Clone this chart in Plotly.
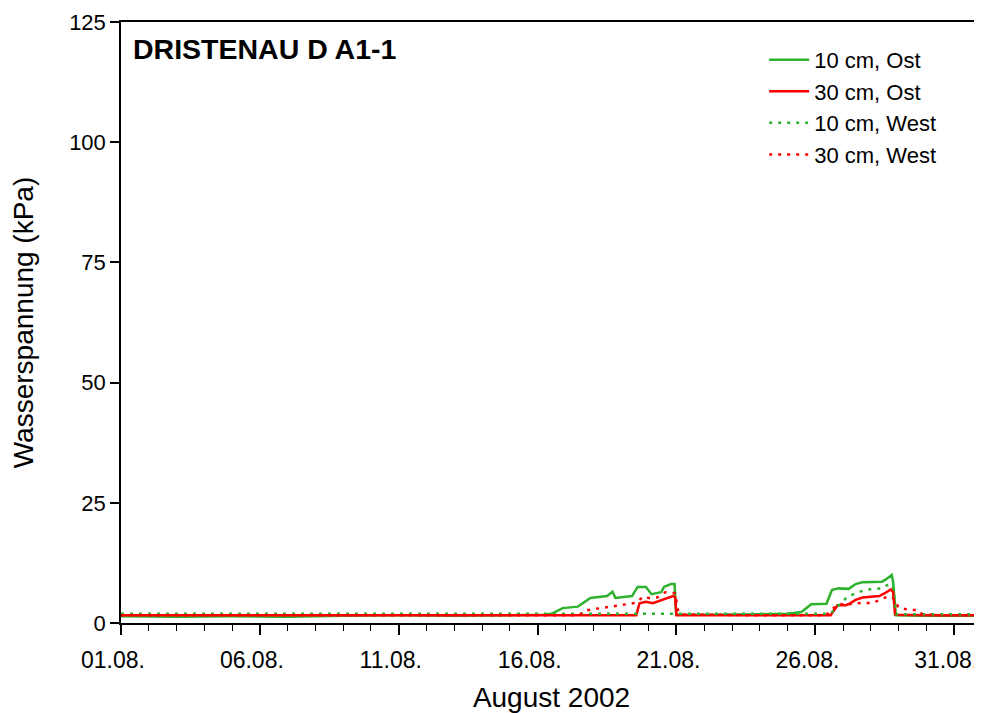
import plotly.graph_objects as go
import pandas as pd

# Zeitpunkte als Tag im August 2002 (1.0 = 01.08. 00:00)
t_gruen_ost = [1.0, 3.0, 5.0, 7.0, 9.0, 11.0, 13.0, 15.0, 16.2, 16.5, 16.9, 17.45, 17.9, 18.5, 18.7, 18.8,
               19.4, 19.6, 19.9, 20.1, 20.45, 20.55, 20.8, 20.93, 20.99, 22.0, 24.0, 25.0, 25.5, 25.85,
               26.4, 26.6, 26.85, 27.2, 27.45, 27.7, 28.4, 28.55, 28.75, 28.8, 28.9, 30.0, 32.0]
v_gruen_ost = [1.4, 1.3, 1.4, 1.3, 1.5, 1.6, 1.5, 1.6, 1.7, 1.9, 3.1, 3.4, 5.2, 5.6, 6.5, 5.2,
               5.6, 7.5, 7.5, 6.0, 6.4, 7.5, 8.1, 8.1, 1.7, 1.7, 1.8, 1.9, 2.3, 3.9,
               4.0, 6.9, 7.2, 7.1, 8.1, 8.5, 8.6, 9.1, 10.0, 8.5, 1.6, 1.5, 1.5]

t_rot_ost = [1.0, 5.0, 10.0, 15.0, 19.55, 19.67, 19.9, 20.15, 20.5, 20.87, 20.95, 21.0, 24.0, 26.55,
             26.8, 27.1, 27.25, 27.45, 27.7, 28.3, 28.5, 28.72, 28.8, 28.87, 30.0, 32.0]
v_rot_ost = [1.6, 1.6, 1.6, 1.6, 1.6, 4.1, 4.4, 4.1, 4.9, 5.6, 5.4, 1.6, 1.6, 1.6,
             3.7, 3.7, 4.1, 4.8, 5.3, 5.6, 6.2, 7.0, 6.4, 1.7, 1.6, 1.6]

t_gruen_west = [1.0, 10.0, 17.0, 20.0, 24.0, 26.55, 26.7, 26.95, 27.15, 27.5, 27.8, 28.4, 28.65, 28.8,
                28.9, 30.0, 32.0]
v_gruen_west = [1.9, 1.9, 1.9, 1.9, 1.9, 1.9, 3.0, 4.2, 5.5, 6.2, 6.9, 7.2, 8.1, 7.6,
                1.8, 1.8, 1.8]

t_rot_west = [1.0, 10.0, 17.5, 17.7, 18.65, 19.55, 19.8, 20.0, 20.3, 20.6, 20.95, 21.05, 21.15, 24.0,
              26.4, 26.55, 26.9, 27.1, 27.35, 27.75, 28.1, 28.3, 28.65, 28.8, 29.0, 29.4, 29.7, 29.85,
              30.5, 32.0]
v_rot_west = [1.6, 1.6, 1.6, 2.6, 3.4, 4.2, 5.5, 5.2, 5.3, 6.4, 6.2, 2.7, 1.8, 1.6,
              1.6, 2.7, 4.0, 3.6, 4.1, 4.2, 4.2, 4.8, 5.6, 5.3, 3.2, 2.7, 2.7, 1.8,
              1.6, 1.6]

serien = [
    ("10 cm, Ost", t_gruen_ost, v_gruen_ost, "rgb(45,178,45)", "solid"),
    ("30 cm, Ost", t_rot_ost, v_rot_ost, "rgb(255,0,0)", "solid"),
    ("10 cm, West", t_gruen_west, v_gruen_west, "rgb(45,178,45)", "3px,6px"),
    ("30 cm, West", t_rot_west, v_rot_west, "rgb(255,0,0)", "3px,6px"),
]

start = pd.Timestamp("2002-08-01")


def to_time(tage):
    return [start + pd.Timedelta(days=d - 1.0) for d in tage]


fig = go.Figure()
for name, t, v, farbe, stil in serien:
    fig.add_trace(go.Scatter(x=to_time(t), y=v, mode="lines", name=name,
                             line=dict(color=farbe, width=2.5, dash=stil)))

font = "Arial, Liberation Sans, sans-serif"

# die Seite hat 8px Rand, daher etwas kleiner
fig.update_layout(
    width=974, height=705,
    margin=dict(l=113, r=0, t=14, b=90),
    paper_bgcolor="white", plot_bgcolor="white",
    font=dict(family=font, size=22, color="black"),
    legend=dict(x=0.747, y=0.972, xanchor="left", yanchor="top",
                bgcolor="rgba(0,0,0,0)", font=dict(size=22), itemwidth=40),
    annotations=[dict(text="<b>DRISTENAU D A1-1</b>", xref="paper", yref="paper",
                      x=0.012, y=0.985, xanchor="left", yanchor="top", showarrow=False,
                      font=dict(size=28.5))],
)

fig.update_xaxes(
    range=[start, pd.Timestamp("2002-09-01")],
    tick0=start, dtick=5 * 86400000, tickformat="%d.%m.",
    ticks="outside", ticklen=10, tickwidth=1.5, tickcolor="black",
    minor=dict(dtick=86400000, ticks="outside", ticklen=6, tickcolor="black", tickwidth=1),
    showline=True, linecolor="black", linewidth=1.5, mirror=True,
    showgrid=False, zeroline=False, automargin=False,
    ticklabeloverflow="allow", ticklabelstandoff=6, ticklabelshift=-8,
    title=dict(text="August 2002", font=dict(size=28), standoff=16),
    tickfont=dict(size=23),
)
fig.update_yaxes(
    range=[0, 125], tickvals=[0, 25, 50, 75, 100, 125],
    ticks="outside", ticklen=9, tickwidth=1.5, tickcolor="black",
    showline=True, linecolor="black", linewidth=1.5,
    showgrid=False, zeroline=False, automargin=False,
    title=dict(text="Wasserspannung (kPa)", font=dict(size=28), standoff=28),
    tickfont=dict(size=22),
)

fig.write_html("out.html")
